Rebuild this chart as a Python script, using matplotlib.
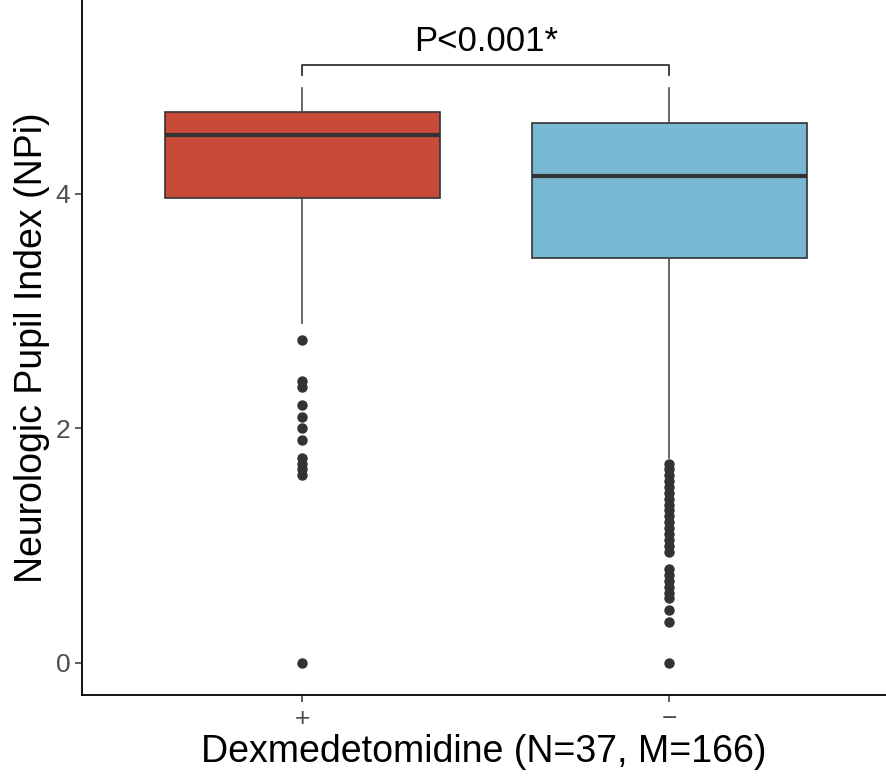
import matplotlib
matplotlib.use("Agg")
import matplotlib.pyplot as plt

plt.rcParams['font.family'] = ['Liberation Sans', 'DejaVu Sans']

groups = ["+", "\u2212"]
colors = ["#C84B3A", "#79B8D3"]
medians = [4.50, 4.15]
q1 = [3.96, 3.45]
q3 = [4.70, 4.60]
whis_lo = [2.90, 1.75]
whis_hi = [4.90, 4.90]
outliers_plus = [2.75, 2.40, 2.35, 2.20, 2.10, 2.00, 1.90, 1.75, 1.70, 1.65, 1.60, 0.0]
outliers_minus = [1.70, 1.65, 1.60, 1.55, 1.50, 1.45, 1.40, 1.35, 1.30, 1.25, 1.20,
                  1.15, 1.10, 1.05, 1.00, 0.95, 0.80, 0.75, 0.70, 0.65, 0.60, 0.55,
                  0.45, 0.35, 0.0]
p_label = "P<0.001*"

stats = []
for i, name in enumerate(groups):
    stats.append({
        "label": name,
        "med": medians[i],
        "q1": q1[i],
        "q3": q3[i],
        "whislo": whis_lo[i],
        "whishi": whis_hi[i],
        "fliers": [outliers_plus, outliers_minus][i],
    })

fig = plt.figure(figsize=(8.86, 7.76), dpi=100)
ax = fig.add_axes([0.0926, 0.1044, 0.9074, 0.8956])

bp = ax.bxp(
    stats, positions=[1, 2], widths=0.75, patch_artist=True,
    showcaps=False,
    boxprops=dict(edgecolor="#333333", linewidth=1.2),
    medianprops=dict(color="#333333", linewidth=3),
    whiskerprops=dict(color="#4D4D4D", linewidth=1.2),
    flierprops=dict(marker="o", markerfacecolor="#333333", markeredgecolor="#333333",
                    markersize=6.5),
)
for patch, c in zip(bp["boxes"], colors):
    patch.set_facecolor(c)

# significance bracket
ax.plot([1, 1, 2, 2], [5.01, 5.10, 5.10, 5.01], color="#333333", linewidth=1.3)
ax.text(1.5, 5.16, p_label, ha="center", va="bottom", fontsize=25)

ax.set_xlim(0.4, 2.59)
ax.set_ylim(-0.273, 5.652)
ax.set_yticks([0, 2, 4])
ax.set_xticks([1, 2])
ax.set_xticklabels(groups)

for side in ["top", "right"]:
    ax.spines[side].set_visible(False)
for side in ["left", "bottom"]:
    ax.spines[side].set_linewidth(1.3)
    ax.spines[side].set_color("black")

ax.tick_params(axis="both", colors="#333333", labelcolor="#4D4D4D", labelsize=19,
               length=5, width=1.1)
ax.set_xlabel("Dexmedetomidine (N=37, M=166)", fontsize=27, labelpad=2)
ax.set_ylabel("Neurologic Pupil Index (NPi)", fontsize=27, labelpad=4)

fig.savefig("out.png", dpi=100)
